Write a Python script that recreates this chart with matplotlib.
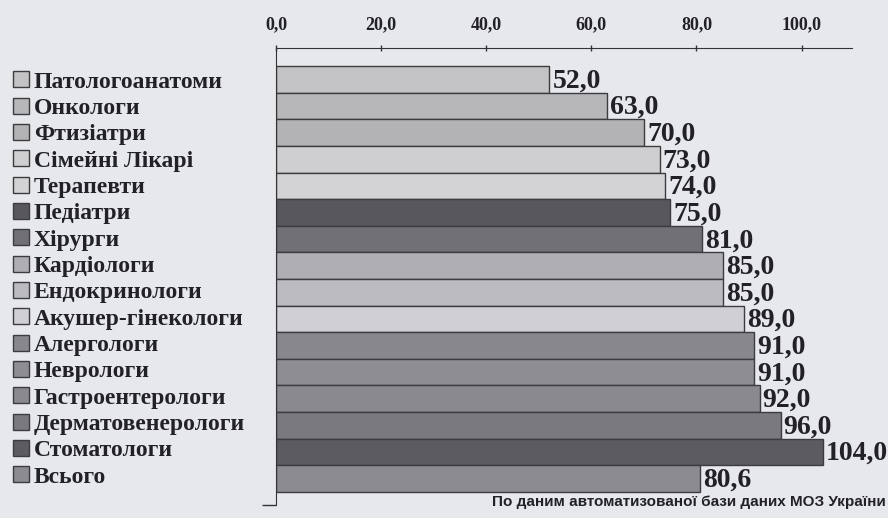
import matplotlib
matplotlib.use("Agg")
import matplotlib.pyplot as plt

categories = [
    "Патологоанатоми", "Онкологи", "Фтизіатри", "Сімейні Лікарі", "Терапевти",
    "Педіатри", "Хірурги", "Кардіологи", "Ендокринологи", "Акушер-гінекологи",
    "Алергологи", "Неврологи", "Гастроентерологи", "Дерматовенерологи",
    "Стоматологи", "Всього",
]
values = [52.0, 63.0, 70.0, 73.0, 74.0, 75.0, 81.0, 85.0, 85.0, 89.0,
          91.0, 91.0, 92.0, 96.0, 104.0, 80.6]
colors = ["#c3c3c6", "#b7b7ba", "#b3b3b6", "#cfcfd2", "#d3d3d6", "#58585c",
          "#717175", "#afafb3", "#bcbcc0", "#d0d0d4", "#88888c", "#8e8e92",
          "#8a8a8e", "#7a7a7e", "#5c5c60", "#8c8c90"]
xticks = [0, 20, 40, 60, 80, 100]
source = "По даним автоматизованої бази даних МОЗ України"

bg = "#e7e8ec"
serif = "Liberation Serif"

fig = plt.figure(figsize=(8.88, 5.18), dpi=100, facecolor=bg)
ax = fig.add_axes([0.3108, 0.0251, 0.6487, 0.8822])
ax.set_facecolor(bg)

pos = list(range(len(categories)))
bars = ax.barh(pos, values, height=1.0, color=colors,
               edgecolor="#3c3c40", linewidth=1.0)

# value labels right of the bars
for y, v in zip(pos, values):
    ax.text(v + 0.6, y + 0.06, f"{v:.1f}".replace(".", ","),
            ha="left", va="center", fontsize=20, fontweight="bold",
            family=serif, color="#222226")

ax.set_xlim(0, 109.6)
ax.set_ylim(15.99, -1.18)

ax.xaxis.tick_top()
ax.set_xticks(xticks)
ax.set_xticklabels([f"{t:.1f}".replace(".", ",") for t in xticks],
                   fontsize=13, fontweight="bold", family=serif,
                   color="#222226")
ax.tick_params(axis="x", direction="inout", length=5, width=1,
               color="#333337", pad=8)
ax.set_yticks([15.99])
ax.set_yticklabels([""])
ax.tick_params(axis="y", direction="out", length=10, width=1,
               color="#333337")

for side in ["right", "bottom"]:
    ax.spines[side].set_visible(False)
ax.spines["top"].set_color("#333337")
ax.spines["left"].set_color("#333337")

leg = fig.legend(bars.patches, categories, loc="upper left",
                 bbox_to_anchor=(0.015, 0.862), frameon=False,
                 prop={"family": serif, "weight": "bold", "size": 17},
                 handlelength=0.66, handleheight=0.66, handletextpad=0.2,
                 labelspacing=0.215, borderaxespad=0.0, borderpad=0.0)
for t in leg.get_texts():
    t.set_color("#222226")

fig.text(0.997, 0.018, source, ha="right", va="bottom", fontsize=11,
         fontweight="bold", family="Liberation Sans", color="#222226")

fig.savefig("out.png", dpi=100, facecolor=bg)
